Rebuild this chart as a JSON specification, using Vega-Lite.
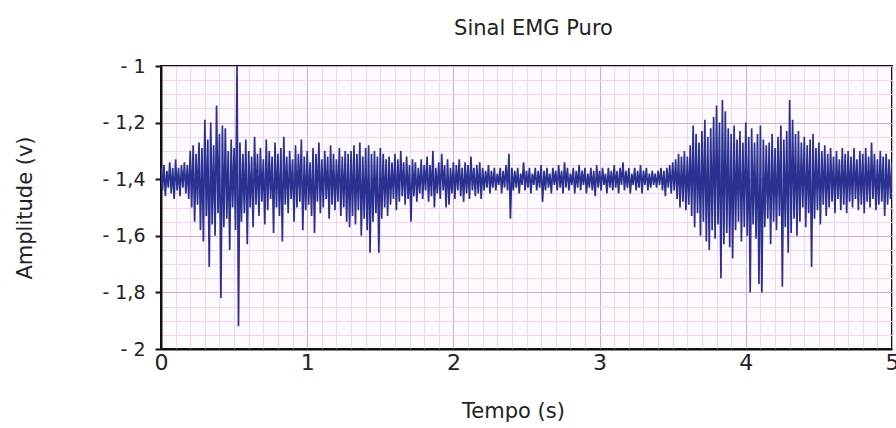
{
  "$schema": "https://vega.github.io/schema/vega-lite/v6.json",
  "width": 731,
  "height": 283,
  "autosize": {"type": "none"},
  "padding": {"left": 161, "top": 66, "right": 4, "bottom": 79},
  "background": "white",
  "title": {"text": "Sinal EMG Puro", "fontSize": 21, "font": "DejaVu Sans", "fontWeight": "normal", "color": "#222222", "offset": 18, "anchor": "middle", "dx": 7},
  "config": {
    "font": "DejaVu Sans",
    "view": {"stroke": "#111111", "strokeWidth": 2, "fill": "#fefbfe"}
  },
  "data": {"values": [
    {"t":0.00,"v":-1.36},{"t":0.01,"v":-1.44},{"t":0.02,"v":-1.35},{"t":0.03,"v":-1.46},{"t":0.04,"v":-1.37},{"t":0.05,"v":-1.43},{"t":0.06,"v":-1.34},{"t":0.07,"v":-1.45},{"t":0.08,"v":-1.36},{"t":0.09,"v":-1.47},
    {"t":0.10,"v":-1.33},{"t":0.11,"v":-1.44},{"t":0.12,"v":-1.36},{"t":0.13,"v":-1.46},{"t":0.14,"v":-1.35},{"t":0.15,"v":-1.43},{"t":0.16,"v":-1.34},{"t":0.17,"v":-1.45},{"t":0.18,"v":-1.35},{"t":0.19,"v":-1.47},
    {"t":0.20,"v":-1.30},{"t":0.21,"v":-1.50},{"t":0.22,"v":-1.28},{"t":0.23,"v":-1.55},{"t":0.24,"v":-1.31},{"t":0.25,"v":-1.49},{"t":0.26,"v":-1.27},{"t":0.27,"v":-1.58},{"t":0.28,"v":-1.29},{"t":0.29,"v":-1.62},
    {"t":0.30,"v":-1.19},{"t":0.31,"v":-1.53},{"t":0.32,"v":-1.26},{"t":0.33,"v":-1.71},{"t":0.34,"v":-1.20},{"t":0.35,"v":-1.56},{"t":0.36,"v":-1.28},{"t":0.37,"v":-1.60},{"t":0.38,"v":-1.14},{"t":0.39,"v":-1.52},
    {"t":0.40,"v":-1.24},{"t":0.41,"v":-1.82},{"t":0.42,"v":-1.21},{"t":0.43,"v":-1.57},{"t":0.44,"v":-1.22},{"t":0.45,"v":-1.54},{"t":0.46,"v":-1.30},{"t":0.47,"v":-1.65},{"t":0.48,"v":-1.26},{"t":0.49,"v":-1.50},
    {"t":0.50,"v":-1.29},{"t":0.51,"v":-1.58},{"t":0.52,"v":-1.00},{"t":0.53,"v":-1.92},{"t":0.54,"v":-1.27},{"t":0.55,"v":-1.55},{"t":0.56,"v":-1.31},{"t":0.57,"v":-1.52},{"t":0.58,"v":-1.26},{"t":0.59,"v":-1.63},
    {"t":0.60,"v":-1.30},{"t":0.61,"v":-1.50},{"t":0.62,"v":-1.32},{"t":0.63,"v":-1.57},{"t":0.64,"v":-1.25},{"t":0.65,"v":-1.49},{"t":0.66,"v":-1.31},{"t":0.67,"v":-1.53},{"t":0.68,"v":-1.29},{"t":0.69,"v":-1.48},
    {"t":0.70,"v":-1.33},{"t":0.71,"v":-1.56},{"t":0.72,"v":-1.26},{"t":0.73,"v":-1.51},{"t":0.74,"v":-1.30},{"t":0.75,"v":-1.47},{"t":0.76,"v":-1.32},{"t":0.77,"v":-1.59},{"t":0.78,"v":-1.27},{"t":0.79,"v":-1.50},
    {"t":0.80,"v":-1.31},{"t":0.81,"v":-1.53},{"t":0.82,"v":-1.29},{"t":0.83,"v":-1.62},{"t":0.84,"v":-1.25},{"t":0.85,"v":-1.49},{"t":0.86,"v":-1.32},{"t":0.87,"v":-1.52},{"t":0.88,"v":-1.30},{"t":0.89,"v":-1.47},
    {"t":0.90,"v":-1.33},{"t":0.91,"v":-1.55},{"t":0.92,"v":-1.28},{"t":0.93,"v":-1.50},{"t":0.94,"v":-1.31},{"t":0.95,"v":-1.48},{"t":0.96,"v":-1.26},{"t":0.97,"v":-1.58},{"t":0.98,"v":-1.32},{"t":0.99,"v":-1.51},
    {"t":1.00,"v":-1.30},{"t":1.01,"v":-1.49},{"t":1.02,"v":-1.34},{"t":1.03,"v":-1.53},{"t":1.04,"v":-1.29},{"t":1.05,"v":-1.59},{"t":1.06,"v":-1.31},{"t":1.07,"v":-1.48},{"t":1.08,"v":-1.27},{"t":1.09,"v":-1.52},
    {"t":1.10,"v":-1.33},{"t":1.11,"v":-1.50},{"t":1.12,"v":-1.30},{"t":1.13,"v":-1.47},{"t":1.14,"v":-1.32},{"t":1.15,"v":-1.54},{"t":1.16,"v":-1.28},{"t":1.17,"v":-1.49},{"t":1.18,"v":-1.31},{"t":1.19,"v":-1.51},
    {"t":1.20,"v":-1.33},{"t":1.21,"v":-1.48},{"t":1.22,"v":-1.29},{"t":1.23,"v":-1.53},{"t":1.24,"v":-1.32},{"t":1.25,"v":-1.50},{"t":1.26,"v":-1.30},{"t":1.27,"v":-1.55},{"t":1.28,"v":-1.31},{"t":1.29,"v":-1.57},
    {"t":1.30,"v":-1.30},{"t":1.31,"v":-1.53},{"t":1.32,"v":-1.28},{"t":1.33,"v":-1.56},{"t":1.34,"v":-1.31},{"t":1.35,"v":-1.51},{"t":1.36,"v":-1.27},{"t":1.37,"v":-1.60},{"t":1.38,"v":-1.32},{"t":1.39,"v":-1.54},
    {"t":1.40,"v":-1.29},{"t":1.41,"v":-1.58},{"t":1.42,"v":-1.28},{"t":1.43,"v":-1.66},{"t":1.44,"v":-1.31},{"t":1.45,"v":-1.55},{"t":1.46,"v":-1.30},{"t":1.47,"v":-1.52},{"t":1.48,"v":-1.32},{"t":1.49,"v":-1.66},
    {"t":1.50,"v":-1.29},{"t":1.51,"v":-1.54},{"t":1.52,"v":-1.31},{"t":1.53,"v":-1.50},{"t":1.54,"v":-1.33},{"t":1.55,"v":-1.53},{"t":1.56,"v":-1.32},{"t":1.57,"v":-1.49},{"t":1.58,"v":-1.34},{"t":1.59,"v":-1.47},
    {"t":1.60,"v":-1.31},{"t":1.61,"v":-1.51},{"t":1.62,"v":-1.33},{"t":1.63,"v":-1.48},{"t":1.64,"v":-1.30},{"t":1.65,"v":-1.46},{"t":1.66,"v":-1.34},{"t":1.67,"v":-1.49},{"t":1.68,"v":-1.32},{"t":1.69,"v":-1.47},
    {"t":1.70,"v":-1.35},{"t":1.71,"v":-1.55},{"t":1.72,"v":-1.33},{"t":1.73,"v":-1.46},{"t":1.74,"v":-1.34},{"t":1.75,"v":-1.48},{"t":1.76,"v":-1.36},{"t":1.77,"v":-1.45},{"t":1.78,"v":-1.33},{"t":1.79,"v":-1.47},
    {"t":1.80,"v":-1.35},{"t":1.81,"v":-1.44},{"t":1.82,"v":-1.32},{"t":1.83,"v":-1.48},{"t":1.84,"v":-1.35},{"t":1.85,"v":-1.46},{"t":1.86,"v":-1.30},{"t":1.87,"v":-1.50},{"t":1.88,"v":-1.36},{"t":1.89,"v":-1.45},
    {"t":1.90,"v":-1.34},{"t":1.91,"v":-1.47},{"t":1.92,"v":-1.31},{"t":1.93,"v":-1.44},{"t":1.94,"v":-1.35},{"t":1.95,"v":-1.50},{"t":1.96,"v":-1.33},{"t":1.97,"v":-1.49},{"t":1.98,"v":-1.36},{"t":1.99,"v":-1.45},
    {"t":2.00,"v":-1.34},{"t":2.01,"v":-1.47},{"t":2.02,"v":-1.35},{"t":2.03,"v":-1.44},{"t":2.04,"v":-1.33},{"t":2.05,"v":-1.46},{"t":2.06,"v":-1.36},{"t":2.07,"v":-1.48},{"t":2.08,"v":-1.34},{"t":2.09,"v":-1.45},
    {"t":2.10,"v":-1.35},{"t":2.11,"v":-1.47},{"t":2.12,"v":-1.32},{"t":2.13,"v":-1.44},{"t":2.14,"v":-1.36},{"t":2.15,"v":-1.46},{"t":2.16,"v":-1.35},{"t":2.17,"v":-1.45},{"t":2.18,"v":-1.34},{"t":2.19,"v":-1.47},
    {"t":2.20,"v":-1.36},{"t":2.21,"v":-1.44},{"t":2.22,"v":-1.37},{"t":2.23,"v":-1.43},{"t":2.24,"v":-1.35},{"t":2.25,"v":-1.45},{"t":2.26,"v":-1.37},{"t":2.27,"v":-1.43},{"t":2.28,"v":-1.36},{"t":2.29,"v":-1.44},
    {"t":2.30,"v":-1.38},{"t":2.31,"v":-1.42},{"t":2.32,"v":-1.36},{"t":2.33,"v":-1.45},{"t":2.34,"v":-1.37},{"t":2.35,"v":-1.43},{"t":2.36,"v":-1.35},{"t":2.37,"v":-1.44},{"t":2.38,"v":-1.31},{"t":2.39,"v":-1.54},
    {"t":2.40,"v":-1.36},{"t":2.41,"v":-1.44},{"t":2.42,"v":-1.37},{"t":2.43,"v":-1.43},{"t":2.44,"v":-1.36},{"t":2.45,"v":-1.45},{"t":2.46,"v":-1.38},{"t":2.47,"v":-1.42},{"t":2.48,"v":-1.34},{"t":2.49,"v":-1.44},
    {"t":2.50,"v":-1.37},{"t":2.51,"v":-1.43},{"t":2.52,"v":-1.36},{"t":2.53,"v":-1.45},{"t":2.54,"v":-1.38},{"t":2.55,"v":-1.42},{"t":2.56,"v":-1.36},{"t":2.57,"v":-1.44},{"t":2.58,"v":-1.37},{"t":2.59,"v":-1.43},
    {"t":2.60,"v":-1.35},{"t":2.61,"v":-1.48},{"t":2.62,"v":-1.37},{"t":2.63,"v":-1.44},{"t":2.64,"v":-1.36},{"t":2.65,"v":-1.43},{"t":2.66,"v":-1.38},{"t":2.67,"v":-1.45},{"t":2.68,"v":-1.36},{"t":2.69,"v":-1.42},
    {"t":2.70,"v":-1.37},{"t":2.71,"v":-1.44},{"t":2.72,"v":-1.35},{"t":2.73,"v":-1.43},{"t":2.74,"v":-1.37},{"t":2.75,"v":-1.45},{"t":2.76,"v":-1.34},{"t":2.77,"v":-1.43},{"t":2.78,"v":-1.36},{"t":2.79,"v":-1.44},
    {"t":2.80,"v":-1.38},{"t":2.81,"v":-1.42},{"t":2.82,"v":-1.36},{"t":2.83,"v":-1.45},{"t":2.84,"v":-1.37},{"t":2.85,"v":-1.43},{"t":2.86,"v":-1.35},{"t":2.87,"v":-1.44},{"t":2.88,"v":-1.37},{"t":2.89,"v":-1.42},
    {"t":2.90,"v":-1.36},{"t":2.91,"v":-1.45},{"t":2.92,"v":-1.38},{"t":2.93,"v":-1.43},{"t":2.94,"v":-1.36},{"t":2.95,"v":-1.44},{"t":2.96,"v":-1.37},{"t":2.97,"v":-1.46},{"t":2.98,"v":-1.35},{"t":2.99,"v":-1.43},
    {"t":3.00,"v":-1.37},{"t":3.01,"v":-1.44},{"t":3.02,"v":-1.36},{"t":3.03,"v":-1.42},{"t":3.04,"v":-1.38},{"t":3.05,"v":-1.45},{"t":3.06,"v":-1.36},{"t":3.07,"v":-1.43},{"t":3.08,"v":-1.37},{"t":3.09,"v":-1.44},
    {"t":3.10,"v":-1.35},{"t":3.11,"v":-1.43},{"t":3.12,"v":-1.37},{"t":3.13,"v":-1.45},{"t":3.14,"v":-1.36},{"t":3.15,"v":-1.42},{"t":3.16,"v":-1.34},{"t":3.17,"v":-1.44},{"t":3.18,"v":-1.37},{"t":3.19,"v":-1.43},
    {"t":3.20,"v":-1.36},{"t":3.21,"v":-1.45},{"t":3.22,"v":-1.38},{"t":3.23,"v":-1.42},{"t":3.24,"v":-1.36},{"t":3.25,"v":-1.44},{"t":3.26,"v":-1.37},{"t":3.27,"v":-1.43},{"t":3.28,"v":-1.35},{"t":3.29,"v":-1.45},
    {"t":3.30,"v":-1.37},{"t":3.31,"v":-1.42},{"t":3.32,"v":-1.36},{"t":3.33,"v":-1.44},{"t":3.34,"v":-1.38},{"t":3.35,"v":-1.43},{"t":3.36,"v":-1.37},{"t":3.37,"v":-1.42},{"t":3.38,"v":-1.38},{"t":3.39,"v":-1.43},
    {"t":3.40,"v":-1.37},{"t":3.41,"v":-1.42},{"t":3.42,"v":-1.36},{"t":3.43,"v":-1.44},{"t":3.44,"v":-1.37},{"t":3.45,"v":-1.46},{"t":3.46,"v":-1.36},{"t":3.47,"v":-1.43},{"t":3.48,"v":-1.35},{"t":3.49,"v":-1.45},
    {"t":3.50,"v":-1.34},{"t":3.51,"v":-1.44},{"t":3.52,"v":-1.33},{"t":3.53,"v":-1.47},{"t":3.54,"v":-1.31},{"t":3.55,"v":-1.50},{"t":3.56,"v":-1.32},{"t":3.57,"v":-1.48},{"t":3.58,"v":-1.30},{"t":3.59,"v":-1.51},
    {"t":3.60,"v":-1.32},{"t":3.61,"v":-1.49},{"t":3.62,"v":-1.28},{"t":3.63,"v":-1.53},{"t":3.64,"v":-1.21},{"t":3.65,"v":-1.57},{"t":3.66,"v":-1.24},{"t":3.67,"v":-1.52},{"t":3.68,"v":-1.27},{"t":3.69,"v":-1.60},
    {"t":3.70,"v":-1.23},{"t":3.71,"v":-1.55},{"t":3.72,"v":-1.19},{"t":3.73,"v":-1.62},{"t":3.74,"v":-1.25},{"t":3.75,"v":-1.65},{"t":3.76,"v":-1.22},{"t":3.77,"v":-1.58},{"t":3.78,"v":-1.18},{"t":3.79,"v":-1.61},
    {"t":3.80,"v":-1.14},{"t":3.81,"v":-1.56},{"t":3.82,"v":-1.20},{"t":3.83,"v":-1.75},{"t":3.84,"v":-1.12},{"t":3.85,"v":-1.63},{"t":3.86,"v":-1.16},{"t":3.87,"v":-1.59},{"t":3.88,"v":-1.22},{"t":3.89,"v":-1.64},
    {"t":3.90,"v":-1.24},{"t":3.91,"v":-1.68},{"t":3.92,"v":-1.21},{"t":3.93,"v":-1.58},{"t":3.94,"v":-1.26},{"t":3.95,"v":-1.55},{"t":3.96,"v":-1.23},{"t":3.97,"v":-1.62},{"t":3.98,"v":-1.27},{"t":3.99,"v":-1.57},
    {"t":4.00,"v":-1.20},{"t":4.01,"v":-1.60},{"t":4.02,"v":-1.25},{"t":4.03,"v":-1.80},{"t":4.04,"v":-1.22},{"t":4.05,"v":-1.56},{"t":4.06,"v":-1.27},{"t":4.07,"v":-1.61},{"t":4.08,"v":-1.24},{"t":4.09,"v":-1.77},
    {"t":4.10,"v":-1.21},{"t":4.11,"v":-1.80},{"t":4.12,"v":-1.26},{"t":4.13,"v":-1.57},{"t":4.14,"v":-1.28},{"t":4.15,"v":-1.54},{"t":4.16,"v":-1.27},{"t":4.17,"v":-1.63},{"t":4.18,"v":-1.24},{"t":4.19,"v":-1.55},
    {"t":4.20,"v":-1.29},{"t":4.21,"v":-1.58},{"t":4.22,"v":-1.25},{"t":4.23,"v":-1.53},{"t":4.24,"v":-1.21},{"t":4.25,"v":-1.78},{"t":4.26,"v":-1.26},{"t":4.27,"v":-1.57},{"t":4.28,"v":-1.23},{"t":4.29,"v":-1.66},
    {"t":4.30,"v":-1.12},{"t":4.31,"v":-1.59},{"t":4.32,"v":-1.19},{"t":4.33,"v":-1.54},{"t":4.34,"v":-1.24},{"t":4.35,"v":-1.60},{"t":4.36,"v":-1.23},{"t":4.37,"v":-1.55},{"t":4.38,"v":-1.27},{"t":4.39,"v":-1.50},
    {"t":4.40,"v":-1.25},{"t":4.41,"v":-1.57},{"t":4.42,"v":-1.28},{"t":4.43,"v":-1.52},{"t":4.44,"v":-1.26},{"t":4.45,"v":-1.71},{"t":4.46,"v":-1.24},{"t":4.47,"v":-1.54},{"t":4.48,"v":-1.29},{"t":4.49,"v":-1.51},
    {"t":4.50,"v":-1.27},{"t":4.51,"v":-1.56},{"t":4.52,"v":-1.30},{"t":4.53,"v":-1.49},{"t":4.54,"v":-1.28},{"t":4.55,"v":-1.53},{"t":4.56,"v":-1.31},{"t":4.57,"v":-1.50},{"t":4.58,"v":-1.29},{"t":4.59,"v":-1.48},
    {"t":4.60,"v":-1.32},{"t":4.61,"v":-1.52},{"t":4.62,"v":-1.30},{"t":4.63,"v":-1.47},{"t":4.64,"v":-1.33},{"t":4.65,"v":-1.51},{"t":4.66,"v":-1.29},{"t":4.67,"v":-1.49},{"t":4.68,"v":-1.31},{"t":4.69,"v":-1.52},
    {"t":4.70,"v":-1.30},{"t":4.71,"v":-1.48},{"t":4.72,"v":-1.32},{"t":4.73,"v":-1.50},{"t":4.74,"v":-1.29},{"t":4.75,"v":-1.47},{"t":4.76,"v":-1.33},{"t":4.77,"v":-1.51},{"t":4.78,"v":-1.30},{"t":4.79,"v":-1.49},
    {"t":4.80,"v":-1.31},{"t":4.81,"v":-1.52},{"t":4.82,"v":-1.29},{"t":4.83,"v":-1.48},{"t":4.84,"v":-1.32},{"t":4.85,"v":-1.50},{"t":4.86,"v":-1.27},{"t":4.87,"v":-1.47},{"t":4.88,"v":-1.31},{"t":4.89,"v":-1.51},
    {"t":4.90,"v":-1.33},{"t":4.91,"v":-1.49},{"t":4.92,"v":-1.30},{"t":4.93,"v":-1.48},{"t":4.94,"v":-1.32},{"t":4.95,"v":-1.53},{"t":4.96,"v":-1.31},{"t":4.97,"v":-1.49},{"t":4.98,"v":-1.33},{"t":4.99,"v":-1.47},
    {"t":5.00,"v":-1.34}
  ]},
  "mark": {"type": "line", "color": "#2b3190", "strokeWidth": 1.7, "clip": true},
  "encoding": {
    "x": {
      "field": "t",
      "type": "quantitative",
      "scale": {"domain": [0, 5], "nice": false},
      "axis": {
        "title": "Tempo (s)",
        "values": [0,0.1,0.2,0.3,0.4,0.5,0.6,0.7,0.8,0.9,1,1.1,1.2,1.3,1.4,1.5,1.6,1.7,1.8,1.9,2,2.1,2.2,2.3,2.4,2.5,2.6,2.7,2.8,2.9,3,3.1,3.2,3.3,3.4,3.5,3.6,3.7,3.8,3.9,4,4.1,4.2,4.3,4.4,4.5,4.6,4.7,4.8,4.9,5],
        "grid": true,
        "gridWidth": 1,
        "gridColor": {"condition": {"test": "abs(datum.value - round(datum.value)) < 1e-6", "value": "#e2a2de"}, "value": "#f5d4f2"},
        "ticks": false,
        "labelExpr": "abs(datum.value - round(datum.value)) < 1e-6 ? format(datum.value, 'd') : ''",
        "labelOverlap": false,
        "labelFlush": false,
        "labelFontSize": 22,
        "labelColor": "#222222",
        "labelPadding": 3,
        "domainColor": "#111111",
        "domainWidth": 2,
        "titleFontSize": 21,
        "titleFontWeight": "normal",
        "titleColor": "#222222",
        "titlePadding": 27,
        "titleX": 352
      }
    },
    "y": {
      "field": "v",
      "type": "quantitative",
      "scale": {"domain": [-2, -1], "nice": false, "zero": false},
      "axis": {
        "title": "Amplitude (v)",
        "values": [-2,-1.95,-1.9,-1.85,-1.8,-1.75,-1.7,-1.65,-1.6,-1.55,-1.5,-1.45,-1.4,-1.35,-1.3,-1.25,-1.2,-1.15,-1.1,-1.05,-1],
        "grid": true,
        "gridWidth": 1,
        "gridColor": {"condition": {"test": "abs(datum.value * 5 - round(datum.value * 5)) < 1e-6", "value": "#e2a2de"}, "value": "#f5d4f2"},
        "ticks": true,
        "tickSize": 6,
        "tickWidth": 2,
        "tickColor": "#111111",
        "tickOpacity": {"condition": {"test": "abs(datum.value * 5 - round(datum.value * 5)) < 1e-6", "value": 1}, "value": 0},
        "labelExpr": "abs(datum.value * 5 - round(datum.value * 5)) < 1e-6 ? '- ' + replace(format(abs(datum.value), '~g'), '.', ',') : ''",
        "labelOverlap": false,
        "labelFlush": false,
        "labelFontSize": 19,
        "labelColor": "#222222",
        "labelPadding": 10,
        "domainColor": "#111111",
        "domainWidth": 2,
        "titleFontSize": 21,
        "titleFontWeight": "normal",
        "titleColor": "#222222",
        "titlePadding": 66
      }
    }
  }
}
